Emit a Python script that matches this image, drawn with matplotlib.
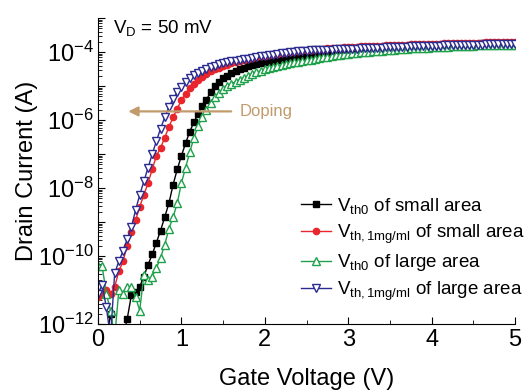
import numpy as np
import matplotlib
matplotlib.use("Agg")
import matplotlib.pyplot as plt
from matplotlib.ticker import LogLocator, FuncFormatter, MultipleLocator

plt.rcParams['font.family'] = ['Liberation Sans', 'DejaVu Sans']
plt.rcParams['mathtext.fontset'] = 'custom'
plt.rcParams['mathtext.rm'] = 'Liberation Sans'
plt.rcParams['mathtext.it'] = 'Liberation Sans'

# gate voltage sweep, 0 to 5 V in 50 mV steps
gate_v = np.round(np.arange(0, 5.0001, 0.05), 2)

# log10 of drain current (A)
small_vth0 = [
    -12.6, -12.4, -12.5, -11.7, -12.5, -12.3, -12.4, -11.85, -11.15, -11.05,
    -10.9, -10.6, -10.25, -9.95, -9.6, -9.25, -8.85, -8.45, -7.9, -7.45,
    -7.05, -6.68, -6.34, -6.06, -5.82, -5.6, -5.4, -5.18, -5.0, -4.88,
    -4.77, -4.69, -4.62, -4.56, -4.51, -4.46, -4.42, -4.39, -4.36, -4.33,
    -4.3, -4.28, -4.26, -4.24, -4.22, -4.2, -4.18, -4.16, -4.14, -4.12,
    -4.1, -4.09, -4.07, -4.06, -4.04, -4.03, -4.02, -4.01, -3.99, -3.98,
    -3.97, -3.96, -3.95, -3.94, -3.93, -3.92, -3.91, -3.9, -3.89, -3.88,
    -3.87, -3.86, -3.86, -3.85, -3.84, -3.83, -3.83, -3.82, -3.81, -3.81,
    -3.8, -3.79, -3.79, -3.78, -3.78, -3.77, -3.77, -3.76, -3.76, -3.75,
    -3.75, -3.75, -3.74, -3.74, -3.74, -3.73, -3.73, -3.73, -3.72, -3.72,
    -3.72]
small_vth1 = [
    -11.2, -11.1, -11.0, -11.1, -10.9, -10.45, -10.15, -9.7, -9.3, -8.95,
    -8.55, -8.2, -7.85, -7.45, -7.05, -6.82, -6.52, -6.2, -5.92, -5.66,
    -5.42, -5.22, -5.06, -4.93, -4.82, -4.72, -4.64, -4.57, -4.51, -4.46,
    -4.41, -4.37, -4.33, -4.29, -4.26, -4.23, -4.2, -4.17, -4.15, -4.13,
    -4.11, -4.09, -4.07, -4.05, -4.03, -4.01, -3.99, -3.98, -3.96, -3.95,
    -3.94, -3.93, -3.92, -3.91, -3.9, -3.89, -3.88, -3.88, -3.87, -3.86,
    -3.85, -3.85, -3.84, -3.83, -3.83, -3.82, -3.82, -3.81, -3.81, -3.8,
    -3.8, -3.79, -3.79, -3.78, -3.78, -3.77, -3.77, -3.76, -3.76, -3.76,
    -3.75, -3.75, -3.75, -3.74, -3.74, -3.74, -3.73, -3.73, -3.73, -3.72,
    -3.72, -3.72, -3.72, -3.71, -3.71, -3.71, -3.71, -3.7, -3.7, -3.7,
    -3.7]
large_vth0 = [
    -10.3, -10.3, -11.1, -11.6, -12.4, -11.0, -11.1, -10.9, -10.9, -11.2,
    -11.6, -10.55, -10.7, -10.6, -10.35, -10.05, -9.66, -9.2, -8.85, -8.45,
    -7.85, -7.4, -6.95, -6.52, -6.18, -5.92, -5.7, -5.5, -5.33, -5.2,
    -5.08, -5.0, -4.93, -4.87, -4.81, -4.75, -4.7, -4.64, -4.59, -4.55,
    -4.5, -4.46, -4.43, -4.4, -4.37, -4.34, -4.32, -4.3, -4.28, -4.26,
    -4.24, -4.22, -4.2, -4.18, -4.16, -4.14, -4.12, -4.1, -4.09, -4.07,
    -4.06, -4.04, -4.03, -4.01, -4.0, -3.99, -3.98, -3.97, -3.96, -3.95,
    -3.94, -3.93, -3.92, -3.91, -3.9, -3.89, -3.89, -3.88, -3.87, -3.87,
    -3.86, -3.85, -3.85, -3.84, -3.84, -3.83, -3.83, -3.82, -3.82, -3.81,
    -3.81, -3.8, -3.8, -3.8, -3.79, -3.79, -3.79, -3.78, -3.78, -3.78,
    -3.78]
large_vth1 = [
    -11.1, -10.85, -11.5, -12.4, -10.5, -10.15, -9.85, -9.5, -9.15, -8.65,
    -8.2, -7.8, -7.4, -7.0, -6.62, -6.25, -5.92, -5.62, -5.38, -5.18,
    -5.02, -4.88, -4.77, -4.68, -4.61, -4.55, -4.5, -4.45, -4.4, -4.36,
    -4.33, -4.3, -4.27, -4.25, -4.23, -4.21, -4.19, -4.17, -4.15, -4.13,
    -4.11, -4.09, -4.08, -4.06, -4.04, -4.02, -4.01, -3.99, -3.98, -3.97,
    -3.96, -3.95, -3.95, -3.94, -3.94, -3.93, -3.93, -3.92, -3.92, -3.91,
    -3.91, -3.9, -3.9, -3.89, -3.89, -3.88, -3.88, -3.87, -3.87, -3.86,
    -3.86, -3.85, -3.85, -3.84, -3.84, -3.83, -3.83, -3.83, -3.82, -3.82,
    -3.81, -3.81, -3.81, -3.8, -3.8, -3.8, -3.79, -3.79, -3.79, -3.78,
    -3.78, -3.78, -3.78, -3.77, -3.77, -3.77, -3.77, -3.76, -3.76, -3.76,
    -3.76]

fig = plt.figure(figsize=(5.24, 3.92), dpi=100)
ax = fig.add_axes([0.187, 0.173, 0.796, 0.781])

ax.plot(gate_v, 10.0 ** np.array(small_vth0), color='black', marker='s',
        ms=4, lw=1, label=r'$\mathrm{V_{th0}}$ of small area')
ax.plot(gate_v, 10.0 ** np.array(small_vth1), color='#e8262b', marker='o',
        ms=4.5, lw=1, label=r'$\mathrm{V_{th,1mg/ml}}$ of small area')
ax.plot(gate_v, 10.0 ** np.array(large_vth0), color='#1fa04a', marker='^',
        ms=5.5, mfc='white', mew=1.0, lw=1, label=r'$\mathrm{V_{th0}}$ of large area')
ax.plot(gate_v, 10.0 ** np.array(large_vth1), color='#2b2a8f', marker='v',
        ms=5.5, mfc='white', mew=1.0, lw=1, label=r'$\mathrm{V_{th,1mg/ml}}$ of large area')

ax.set_yscale('log')
ax.set_xlim(0, 5)
ax.set_ylim(1e-12, 1e-3)

for side in ['top', 'right']:
    ax.spines[side].set_visible(False)

ax.xaxis.set_major_locator(MultipleLocator(1))
ax.xaxis.set_minor_locator(MultipleLocator(0.5))
ax.yaxis.set_major_locator(LogLocator(base=10, numticks=20))
ax.yaxis.set_minor_locator(LogLocator(base=10, subs=np.arange(2, 10), numticks=20))

def ylab(val, pos):
    e = int(round(np.log10(val)))
    return r'$\mathrm{10^{%d}}$' % e if e % 2 == 0 else ''

ax.yaxis.set_major_formatter(FuncFormatter(ylab))
ax.tick_params(which='both', direction='in', labelsize=17)
ax.tick_params(which='major', length=5)
ax.tick_params(which='minor', length=3)
ax.tick_params(axis='y', pad=3)

ax.set_xlabel('Gate Voltage (V)', fontsize=17, labelpad=12)
ax.set_ylabel('Drain Current (A)', fontsize=17, labelpad=0)

ax.text(0.18, 5e-4, r'$\mathrm{V_D}$ = 50 mV', fontsize=13.5, va='center')

ax.annotate('', xy=(0.33, 1.8e-6), xytext=(1.63, 1.8e-6),
            arrowprops=dict(arrowstyle='-|>', color='#c19b6c', lw=1.6,
                            mutation_scale=14))
ax.text(1.70, 1.8e-6, 'Doping', color='#c19b6c', fontsize=12, va='center')

ax.legend(loc='lower right', bbox_to_anchor=(1.04, 0.045), frameon=False,
          fontsize=13.5, handlelength=1.6, handletextpad=0.3, labelspacing=0.35,
          borderaxespad=0)

fig.savefig('out.png', dpi=100)
